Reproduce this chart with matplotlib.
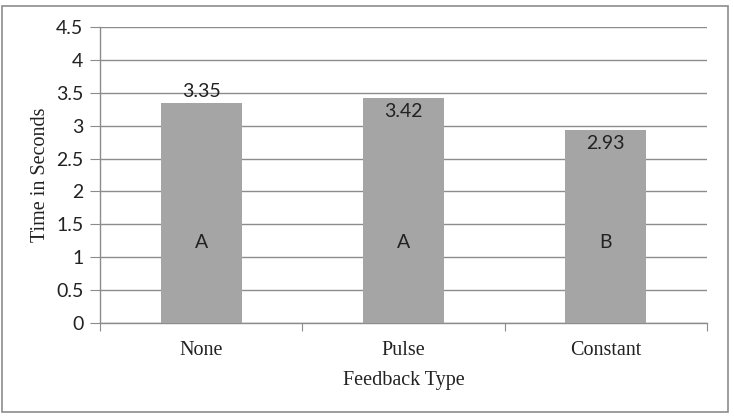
import matplotlib
matplotlib.use("Agg")
import matplotlib.pyplot as plt
from matplotlib.patches import Rectangle

categories = ["None", "Pulse", "Constant"]
values = [3.35, 3.42, 2.93]
value_labels = ["3.35", "3.42", "2.93"]
group_labels = ["A", "A", "B"]
yticks = [0, 0.5, 1, 1.5, 2, 2.5, 3, 3.5, 4, 4.5]
ytick_labels = ["0", "0.5", "1", "1.5", "2", "2.5", "3", "3.5", "4", "4.5"]

W, H = 734, 418
fig = plt.figure(figsize=(W / 100, H / 100), dpi=100)
fig.patches.append(Rectangle((2 / W, 6 / H), 726 / W, 406 / H, transform=fig.transFigure,
                             fill=False, edgecolor="#8c8c8c", linewidth=1.2))

ax = fig.add_axes([100 / W, 1 - 323 / H, 607 / W, 296 / H])
x = list(range(len(categories)))
ax.bar(x, values, width=0.4, color="#a5a5a5", zorder=3)
ax.set_xlim(-0.5, 2.5)
ax.set_ylim(0, 4.5)
ax.set_yticks(yticks)
ax.set_yticklabels(ytick_labels, fontfamily="Lato", fontsize=14, color="#222222")
ax.grid(axis="y", color="#8c8c8c", linewidth=1.0, zorder=0)
ax.set_axisbelow(True)

ax.set_xticks([-0.5, 0.5, 1.5, 2.5])
ax.set_xticklabels([])
ax.set_xticks(x, minor=True)
ax.set_xticklabels(categories, minor=True, fontfamily="Liberation Serif", fontsize=14.5, color="#222222")
ax.tick_params(axis="x", which="minor", length=0, pad=13)
ax.tick_params(axis="x", which="major", length=6, color="#8c8c8c", direction="out")
ax.tick_params(axis="y", length=7, color="#8c8c8c", direction="out", pad=5)

for s in ["top", "right"]:
    ax.spines[s].set_visible(False)
for s in ["left", "bottom"]:
    ax.spines[s].set_color("#8c8c8c")
    ax.spines[s].set_linewidth(1.0)

for i, (v, lab, g) in enumerate(zip(values, value_labels, group_labels)):
    if i == 0:
        ax.text(i, v + 0.04, lab, ha="center", va="bottom", fontfamily="Lato", fontsize=14, color="#222222", zorder=4)
    else:
        ax.text(i, v - 0.07, lab, ha="center", va="top", fontfamily="Lato", fontsize=14, color="#222222", zorder=4)
    ax.text(i, 1.22, g, ha="center", va="center", fontfamily="Lato", fontsize=14, color="#222222", zorder=4)

ax.set_xlabel("Feedback Type", fontfamily="Liberation Serif", fontsize=14.5, labelpad=8, color="#222222")
ax.set_ylabel("Time in Seconds", fontfamily="Liberation Serif", fontsize=14.5, labelpad=4, color="#222222")

fig.savefig("out.png", dpi=100)
